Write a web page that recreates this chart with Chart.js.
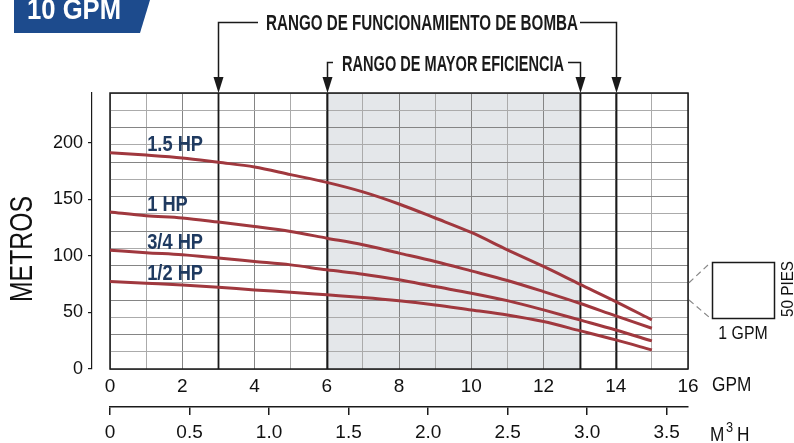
<!DOCTYPE html>
<html>
<head>
<meta charset="utf-8">
<script src="https://cdn.jsdelivr.net/npm/chart.js@4.4.0/dist/chart.umd.min.js"></script>
<style>
  body { margin: 0; background: #fff; }
</style>
</head>
<body>
<canvas id="curvasBomba" width="794" height="443"></canvas>
<script>
// caudal en GPM
const gpm = [0, 1, 2, 3, 4, 5, 6, 7, 8, 9, 10, 11, 12, 13, 14, 15];
// altura en metros por potencia
const hp15 = [191, 189, 186.5, 182.6, 178.5, 171.7, 164.9, 156.5, 145.8, 133.4, 120.6, 105.3, 90.6, 75, 59.6, 43.4];
const hp1  = [138.7, 135.4, 133.4, 129.8, 125.9, 121.5, 115.6, 109.7, 102.4, 95, 86.7, 78.2, 68.4, 58.1, 46.9, 36];
const hp34 = [105, 102.7, 100.9, 98, 95, 92, 87.6, 83.8, 78.8, 72.8, 67, 60.4, 52.2, 43.4, 34.5, 24.8];
const hp12 = [77.3, 75.8, 74.3, 72.3, 69.9, 67.9, 65.5, 63.1, 60.2, 56.6, 52.2, 47.8, 41.9, 33.9, 25.7, 16.8];
const seriesNames = ['1.5 HP', '1 HP', '3/4 HP', '1/2 HP'];

const metrosTicks = [0, 50, 100, 150, 200];
const m3hTicks = [0, 0.5, 1.0, 1.5, 2.0, 2.5, 3.0, 3.5];
const gpmMax = 16;
const pie50 = 15.24;          // 50 pies en metros (una celda de la cuadricula)
const metrosMax = 16 * pie50;
const m3hMax = gpmMax * 0.227125;

const rangoFuncionamiento = [3, 14];
const rangoEficiencia = [6, 13];

const FONT = "'Liberation Sans Narrow', 'Arial Narrow', 'Liberation Sans', Arial, sans-serif";
const RED = '#a0383e';
const NAVY = '#1f3a60';
const DARK = '#1a1a1a';

function pts(values) {
    return values.map((v, i) => ({ x: gpm[i], y: v }));
}

// texto ajustado a un ancho dado
function fitText(ctx, text, cx, baseline, width) {
    const w = ctx.measureText(text).width;
    ctx.save();
    ctx.translate(cx, baseline);
    ctx.scale(width / w, 1);
    ctx.textAlign = 'center';
    ctx.fillText(text, 0, 0);
    ctx.restore();
}

// texto condensado (la tipografia original es estrecha)
function narrowText(ctx, text, x, y, sx, align) {
    ctx.save();
    ctx.translate(x, y);
    ctx.scale(sx, 1);
    ctx.textAlign = align || 'left';
    ctx.fillText(text, 0, 0);
    ctx.restore();
}

function arrowDown(ctx, x, tipY) {
    ctx.beginPath();
    ctx.moveTo(x, tipY);
    ctx.lineTo(x - 5, tipY - 16);
    ctx.lineTo(x + 5, tipY - 16);
    ctx.closePath();
    ctx.fill();
}

const decor = {
    id: 'decor',
    beforeDraw(chart) {
        const { ctx, chartArea: a, scales } = chart;
        const x0 = scales.x.getPixelForValue(rangoEficiencia[0]);
        const x1 = scales.x.getPixelForValue(rangoEficiencia[1]);
        ctx.save();
        ctx.fillStyle = '#e4e7ea';
        ctx.fillRect(x0, a.top, x1 - x0, a.bottom - a.top);
        ctx.restore();
    },
    beforeDatasetsDraw(chart) {
        const { ctx, chartArea: a, scales } = chart;
        ctx.save();
        ctx.strokeStyle = DARK;
        ctx.lineWidth = 1.8;
        [...rangoFuncionamiento, ...rangoEficiencia].forEach(v => {
            const px = Math.round(scales.x.getPixelForValue(v)) + 0.5;
            ctx.beginPath();
            ctx.moveTo(px, a.top);
            ctx.lineTo(px, a.bottom);
            ctx.stroke();
        });
        ctx.lineWidth = 1.5;
        ctx.strokeRect(a.left, a.top, a.right - a.left, a.bottom - a.top);
        ctx.restore();
    },
    afterDraw(chart) {
        const { ctx, chartArea: a, scales } = chart;
        const xs = scales.x, ys = scales.y;
        ctx.save();

        // banner
        ctx.fillStyle = '#1d4b8d';
        ctx.beginPath();
        ctx.moveTo(14, 0);
        ctx.lineTo(150, 0);
        ctx.lineTo(140, 33);
        ctx.lineTo(14, 33);
        ctx.closePath();
        ctx.fill();
        ctx.fillStyle = '#fff';
        ctx.font = "bold 29px 'Liberation Sans', sans-serif";
        fitText(ctx, '10 GPM', 74, 19, 94);

        // rangos
        ctx.fillStyle = DARK;
        ctx.strokeStyle = DARK;
        ctx.lineWidth = 1.5;
        ctx.font = 'bold 22px ' + FONT;

        const fL = Math.round(xs.getPixelForValue(rangoFuncionamiento[0])) + 0.5;
        const fR = Math.round(xs.getPixelForValue(rangoFuncionamiento[1])) + 0.5;
        fitText(ctx, 'RANGO DE FUNCIONAMIENTO DE BOMBA', 422, 30, 312);
        ctx.beginPath();
        ctx.moveTo(258, 22.5); ctx.lineTo(fL, 22.5); ctx.lineTo(fL, a.top - 14);
        ctx.moveTo(580, 22.5); ctx.lineTo(fR, 22.5); ctx.lineTo(fR, a.top - 14);
        ctx.stroke();
        arrowDown(ctx, fL, a.top);
        arrowDown(ctx, fR, a.top);

        const eL = Math.round(xs.getPixelForValue(rangoEficiencia[0])) + 0.5;
        const eR = Math.round(xs.getPixelForValue(rangoEficiencia[1])) + 0.5;
        fitText(ctx, 'RANGO DE MAYOR EFICIENCIA', 453, 71, 222);
        ctx.beginPath();
        ctx.moveTo(333, 62.5); ctx.lineTo(eL, 62.5); ctx.lineTo(eL, a.top - 14);
        ctx.moveTo(568, 62.5); ctx.lineTo(eR, 62.5); ctx.lineTo(eR, a.top - 14);
        ctx.stroke();
        arrowDown(ctx, eL, a.top);
        arrowDown(ctx, eR, a.top);

        // etiquetas de curvas
        ctx.fillStyle = NAVY;
        ctx.font = 'bold 22px ' + FONT;
        [hp15, hp1, hp34, hp12].forEach((s, i) => {
            narrowText(ctx, seriesNames[i], xs.getPixelForValue(1.03), ys.getPixelForValue(s[0]) - 1.5, 0.83);
        });

        // titulos de ejes
        ctx.fillStyle = '#111';
        ctx.font = '31px ' + FONT;
        ctx.save();
        ctx.translate(32, 249);
        ctx.rotate(-Math.PI / 2);
        narrowText(ctx, 'METROS', 0, 0, 0.8, 'center');
        ctx.restore();

        ctx.font = '21px ' + FONT;
        narrowText(ctx, 'GPM', 712, 391, 0.82);
        narrowText(ctx, 'M', 710, 441, 0.82);
        ctx.font = '15px ' + FONT;
        narrowText(ctx, '3', 726, 432, 0.85);
        ctx.font = '21px ' + FONT;
        narrowText(ctx, 'H', 737, 441, 0.82);

        // escala de referencia
        const cTop = ys.getPixelForValue(5 * pie50);
        const cBot = ys.getPixelForValue(4 * pie50);
        ctx.strokeStyle = '#888';
        ctx.lineWidth = 1.2;
        ctx.setLineDash([6, 4]);
        ctx.beginPath();
        ctx.moveTo(a.right + 1, cTop); ctx.lineTo(709, 264);
        ctx.moveTo(a.right + 1, cBot); ctx.lineTo(709, 317);
        ctx.stroke();
        ctx.setLineDash([]);
        ctx.strokeStyle = DARK;
        ctx.lineWidth = 1.5;
        ctx.strokeRect(712.5, 262.5, 62, 56);
        ctx.font = '18px ' + FONT;
        narrowText(ctx, '1 GPM', 743, 339, 0.88, 'center');
        ctx.save();
        ctx.translate(793, 289);
        ctx.rotate(-Math.PI / 2);
        ctx.font = '17px ' + FONT;
        narrowText(ctx, '50 PIES', 0, 0, 0.9, 'center');
        ctx.restore();

        ctx.restore();
    }
};

const lineDs = (values) => ({
    data: pts(values),
    borderColor: RED,
    borderWidth: 3,
    pointRadius: 0,
    cubicInterpolationMode: 'monotone',
    fill: false
});

const ctx = document.getElementById('curvasBomba').getContext('2d');
const curvasBomba = new Chart(ctx, {
    type: 'line',
    data: {
        datasets: [lineDs(hp15), lineDs(hp1), lineDs(hp34), lineDs(hp12)]
    },
    options: {
        responsive: false,
        animation: false,
        devicePixelRatio: 1,
        layout: { padding: { top: 93, right: 106, left: 0, bottom: 0 } },
        plugins: { legend: { display: false }, tooltip: { enabled: false } },
        scales: {
            x: {
                type: 'linear',
                position: 'bottom',
                weight: 0,
                min: 0,
                max: gpmMax,
                afterBuildTicks: s => { s.ticks = Array.from({ length: gpmMax + 1 }, (_, i) => ({ value: i })); },
                afterFit: s => { s.height = 38; },
                grid: {
                    color: c => (c.tick && c.tick.value % 2 === 0) ? '#858585' : '#ababab',
                    drawTicks: false
                },
                border: { display: false },
                ticks: {
                    autoSkip: false,
                    maxRotation: 0,
                    padding: 6,
                    color: '#111',
                    font: { family: FONT, size: 19 },
                    callback: v => v % 2 === 0 ? String(v) : ''
                }
            },
            x2: {
                type: 'linear',
                position: 'bottom',
                weight: 1,
                min: 0,
                max: m3hMax,
                afterBuildTicks: s => { s.ticks = m3hTicks.map(v => ({ value: v })); },
                afterFit: s => { s.height = 36; },
                grid: { drawOnChartArea: false, tickLength: 8, color: DARK, lineWidth: 1.5 },
                border: { display: true, color: DARK, width: 1.5 },
                ticks: {
                    autoSkip: false,
                    maxRotation: 0,
                    padding: 6,
                    color: '#111',
                    font: { family: FONT, size: 19 },
                    callback: v => v === 0 ? '0' : v.toFixed(1)
                }
            },
            y: {
                type: 'linear',
                position: 'left',
                weight: 0,
                min: 0,
                max: metrosMax,
                afterBuildTicks: s => { s.ticks = Array.from({ length: 17 }, (_, i) => ({ value: i * pie50 })); },
                afterFit: s => { s.width = 18; },
                grid: {
                    color: c => c.index % 2 === 0 ? '#858585' : '#ababab',
                    drawTicks: false
                },
                border: { display: false },
                ticks: { display: false }
            },
            yM: {
                type: 'linear',
                position: 'left',
                weight: 1,
                min: 0,
                max: metrosMax,
                afterBuildTicks: s => { s.ticks = metrosTicks.map(v => ({ value: v })); },
                afterFit: s => { s.width = 92; },
                grid: { drawOnChartArea: false, tickLength: 4, color: DARK, lineWidth: 1.2 },
                border: { display: true, color: DARK, width: 1.2 },
                ticks: {
                    padding: 5,
                    color: '#111',
                    font: { family: FONT, size: 18 }
                }
            }
        }
    },
    plugins: [decor]
});
</script>
</body>
</html>
